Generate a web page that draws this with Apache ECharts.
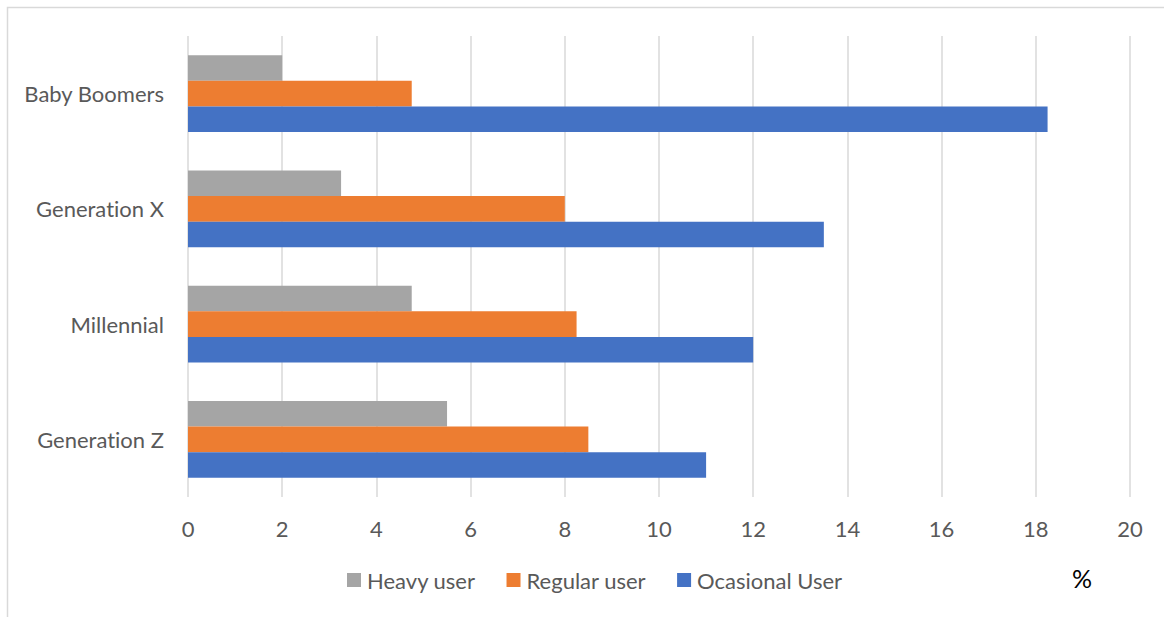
<!DOCTYPE html>
<html>
<head>
<meta charset="utf-8">
<script src="https://cdn.jsdelivr.net/npm/echarts@6/dist/echarts.min.js"></script>
<style>
  html, body { margin: 0; padding: 0; background: #ffffff; }
  #chart { width: 1164px; height: 617px; }
  #chart text { font-variant-ligatures: none; }
</style>
</head>
<body>
<div id="chart"></div>
<script>
// Generations, listed bottom to top along the category axis
const categories = ['Generation Z', 'Millennial', 'Generation X', 'Baby Boomers'];

// Share of each user type per generation (%)
const heavyUser = [5.5, 4.75, 3.25, 2];
const regularUser = [8.5, 8.25, 8, 4.75];
const ocasionalUser = [11, 12, 13.5, 18.25];

const seriesNames = ['Heavy user', 'Regular user', 'Ocasional User'];
const seriesColors = ['#a5a5a5', '#ed7d31', '#4472c4'];
const xTicks = { min: 0, max: 20, interval: 2 };

const font = 'Lato, "Open Sans", sans-serif';
const textGray = '#595959';

const chart = echarts.init(document.getElementById('chart'), null, { renderer: 'svg' });

const makeSeries = (name, data, color) => ({
  name: name,
  type: 'bar',
  data: data,
  barGap: '0%',
  barCategoryGap: '33.3%',
  itemStyle: { color: color },
  emphasis: { disabled: true }
});

chart.setOption({
  animation: false,
  backgroundColor: '#ffffff',
  textStyle: { fontFamily: font },
  grid: { left: 188, right: 34, top: 36, bottom: 120, containLabel: false },
  xAxis: {
    type: 'value',
    min: xTicks.min,
    max: xTicks.max,
    interval: xTicks.interval,
    axisLine: { show: false },
    axisTick: { show: false },
    axisLabel: { color: textGray, fontSize: 22, fontFamily: font, margin: 20 },
    splitLine: { show: true, lineStyle: { color: '#d9d9d9', width: 1.5 } }
  },
  yAxis: {
    type: 'category',
    data: categories,
    axisLine: { show: false },
    axisTick: { show: false },
    axisLabel: { color: textGray, fontSize: 22, fontFamily: font, margin: 24, padding: [0, 0, 3, 0] }
  },
  legend: {
    data: seriesNames,
    left: 347,
    top: 569,
    padding: 0,
    itemWidth: 14,
    itemHeight: 14,
    itemGap: 31,
    icon: 'rect',
    textStyle: { color: textGray, fontSize: 22, fontFamily: font, padding: [0, 0, 0, 1] }
  },
  graphic: [
    {
      type: 'rect',
      shape: { x: 7.5, y: 7.5, width: 1200, height: 700 },
      style: { fill: null, stroke: '#d9d9d9', lineWidth: 1.5 },
      silent: true,
      z: -10
    },
    {
      type: 'text',
      left: 1072,
      top: 565,
      style: { text: '%', fill: '#000000', font: '25px ' + font }
    }
  ],
  series: [
    makeSeries(seriesNames[0], heavyUser, seriesColors[0]),
    makeSeries(seriesNames[1], regularUser, seriesColors[1]),
    makeSeries(seriesNames[2], ocasionalUser, seriesColors[2])
  ]
});
</script>
</body>
</html>
